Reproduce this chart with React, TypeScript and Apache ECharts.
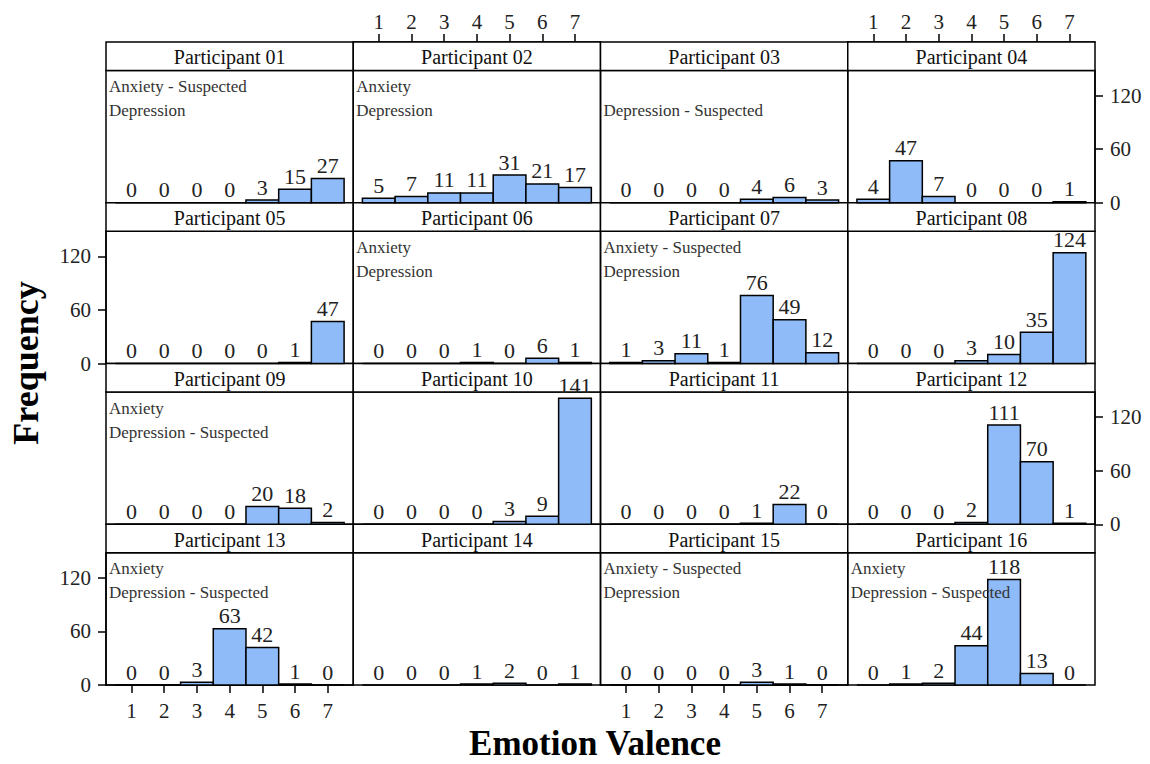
import React, { useEffect, useRef } from "react";
import * as echarts from "echarts";

const valence = [1, 2, 3, 4, 5, 6, 7];
const yTicks = [0, 60, 120];
const participants = [
  "Participant 01", "Participant 02", "Participant 03", "Participant 04",
  "Participant 05", "Participant 06", "Participant 07", "Participant 08",
  "Participant 09", "Participant 10", "Participant 11", "Participant 12",
  "Participant 13", "Participant 14", "Participant 15", "Participant 16",
];
const p01 = [0, 0, 0, 0, 3, 15, 27];
const p02 = [5, 7, 11, 11, 31, 21, 17];
const p03 = [0, 0, 0, 0, 4, 6, 3];
const p04 = [4, 47, 7, 0, 0, 0, 1];
const p05 = [0, 0, 0, 0, 0, 1, 47];
const p06 = [0, 0, 0, 1, 0, 6, 1];
const p07 = [1, 3, 11, 1, 76, 49, 12];
const p08 = [0, 0, 0, 3, 10, 35, 124];
const p09 = [0, 0, 0, 0, 20, 18, 2];
const p10 = [0, 0, 0, 0, 3, 9, 141];
const p11 = [0, 0, 0, 0, 1, 22, 0];
const p12 = [0, 0, 0, 2, 111, 70, 1];
const p13 = [0, 0, 3, 63, 42, 1, 0];
const p14 = [0, 0, 0, 1, 2, 0, 1];
const p15 = [0, 0, 0, 0, 3, 1, 0];
const p16 = [0, 1, 2, 44, 118, 13, 0];
const counts = [p01, p02, p03, p04, p05, p06, p07, p08, p09, p10, p11, p12, p13, p14, p15, p16];
const anxietyNotes = [
  "Anxiety - Suspected", "Anxiety", "", "",
  "", "Anxiety", "Anxiety - Suspected", "",
  "Anxiety", "", "", "",
  "Anxiety", "", "Anxiety - Suspected", "Anxiety",
];
const depressionNotes = [
  "Depression", "Depression", "Depression - Suspected", "",
  "", "Depression", "Depression", "",
  "Depression - Suspected", "", "", "",
  "Depression - Suspected", "", "Depression", "Depression - Suspected",
];

const FONT = '"Liberation Serif", "Times New Roman", serif';
const L = 106;
const T = 42;
const CW = 247.25;
const RH = 160.75;
const STRIP = 28.5;
const PH = RH - STRIP;
const BAR = "#8fbcf9";

export default function App() {
  const ref = useRef<HTMLDivElement>(null);
  useEffect(() => {
    if (!ref.current) return;
    const chart = echarts.init(ref.current, undefined, { renderer: "svg" });
    const grids: any[] = [];
    const xAxes: any[] = [];
    const yAxes: any[] = [];
    const series: any[] = [];
    const graphics: any[] = [];
    for (let i = 0; i < 16; i++) {
      const r = Math.floor(i / 4);
      const c = i % 4;
      const left = L + c * CW;
      const top = T + r * RH + STRIP;
      grids.push({
        left, top, width: CW, height: PH,
        show: true, borderColor: "#000", borderWidth: 1.5, backgroundColor: "transparent",
      });
      const xTop = r === 0 && c % 2 === 1;
      const xBottom = r === 3 && c % 2 === 0;
      const xShow = xTop || xBottom;
      xAxes.push({
        type: "value", gridIndex: i, min: 0.22, max: 7.78,
        position: xTop ? "top" : "bottom", offset: xTop ? STRIP : 0,
        axisLine: { show: xShow, onZero: false, lineStyle: { color: "#000", width: 1.5 } },
        splitLine: { show: false },
        axisTick: { show: xShow, inside: false, customValues: valence, length: 8, lineStyle: { color: "#000", width: 1.5 } },
        axisLabel: { show: xShow, customValues: valence, fontSize: 21, fontFamily: FONT, color: "#222", margin: xTop ? 10 : 15 },
      });
      const yLeft = c === 0 && r % 2 === 1;
      const yRight = c === 3 && r % 2 === 0;
      const yShow = yLeft || yRight;
      yAxes.push({
        type: "value", gridIndex: i, min: 0, max: 148,
        position: yRight ? "right" : "left",
        axisLine: { show: yShow, onZero: false, lineStyle: { color: "#000", width: 1.5 } },
        splitLine: { show: false },
        axisTick: { show: yShow, inside: false, customValues: yTicks, length: 8, lineStyle: { color: "#000", width: 1.5 } },
        axisLabel: { show: yShow, customValues: yTicks, fontSize: 21, fontFamily: FONT, color: "#222", margin: 15 },
      });
      series.push({
        type: "custom", xAxisIndex: i, yAxisIndex: i, z: 3,
        data: valence.map((v, k) => [v, counts[i][k]]),
        renderItem: (_p: any, api: any) => {
          const x = api.value(0);
          const y = api.value(1);
          const a = api.coord([x - 0.5, 0]);
          const b = api.coord([x + 0.5, y]);
          return {
            type: "group",
            children: [
              {
                type: "rect",
                shape: { x: a[0], y: b[1], width: b[0] - a[0], height: a[1] - b[1] },
                style: { fill: BAR, stroke: "#000", lineWidth: 1.5 },
              },
              {
                type: "text",
                x: (a[0] + b[0]) / 2, y: b[1] - 2,
                style: {
                  text: String(y), align: "center", verticalAlign: "bottom",
                  textAlign: "center", textVerticalAlign: "bottom",
                  font: `22px ${FONT}`, fill: "#222",
                },
              },
            ],
          };
        },
      });
      graphics.push({
        type: "rect", z: 1,
        shape: { x: left, y: T + r * RH, width: CW, height: STRIP },
        style: { fill: "#fff", stroke: "#000", lineWidth: 1.5 },
      });
      graphics.push({
        type: "text", z: 2, x: left + CW / 2, y: T + r * RH + STRIP / 2 + 1,
        style: {
          text: participants[i], align: "center", verticalAlign: "middle",
          textAlign: "center", textVerticalAlign: "middle",
          font: `20px ${FONT}`, fill: "#111",
        },
      });
      if (anxietyNotes[i]) {
        graphics.push({
          type: "text", z: 10, x: left + 3, y: top + 16,
          style: {
            text: anxietyNotes[i], align: "left", verticalAlign: "middle",
            textAlign: "left", textVerticalAlign: "middle",
            font: `17px ${FONT}`, fill: "#333",
          },
        });
      }
      if (depressionNotes[i]) {
        graphics.push({
          type: "text", z: 10, x: left + 3, y: top + 40,
          style: {
            text: depressionNotes[i], align: "left", verticalAlign: "middle",
            textAlign: "left", textVerticalAlign: "middle",
            font: `17px ${FONT}`, fill: "#333",
          },
        });
      }
    }
    graphics.push({
      type: "text", x: 26, y: 363, rotation: Math.PI / 2,
      style: {
        text: "Frequency", align: "center", verticalAlign: "middle",
        textAlign: "center", textVerticalAlign: "middle",
        font: `bold 36px ${FONT}`, fill: "#000",
      },
    });
    graphics.push({
      type: "text", x: 595, y: 743,
      style: {
        text: "Emotion Valence", align: "center", verticalAlign: "middle",
        textAlign: "center", textVerticalAlign: "middle",
        font: `bold 35px ${FONT}`, fill: "#000",
      },
    });
    chart.setOption({
      animation: false,
      backgroundColor: "#fff",
      textStyle: { fontFamily: FONT },
      grid: grids,
      xAxis: xAxes,
      yAxis: yAxes,
      series,
      graphic: { elements: graphics },
    });
    return () => chart.dispose();
  }, []);
  return (
    <div
      ref={ref}
      style={{ position: "fixed", left: 0, top: 0, width: 1150, height: 764 }}
    />
  );
}
